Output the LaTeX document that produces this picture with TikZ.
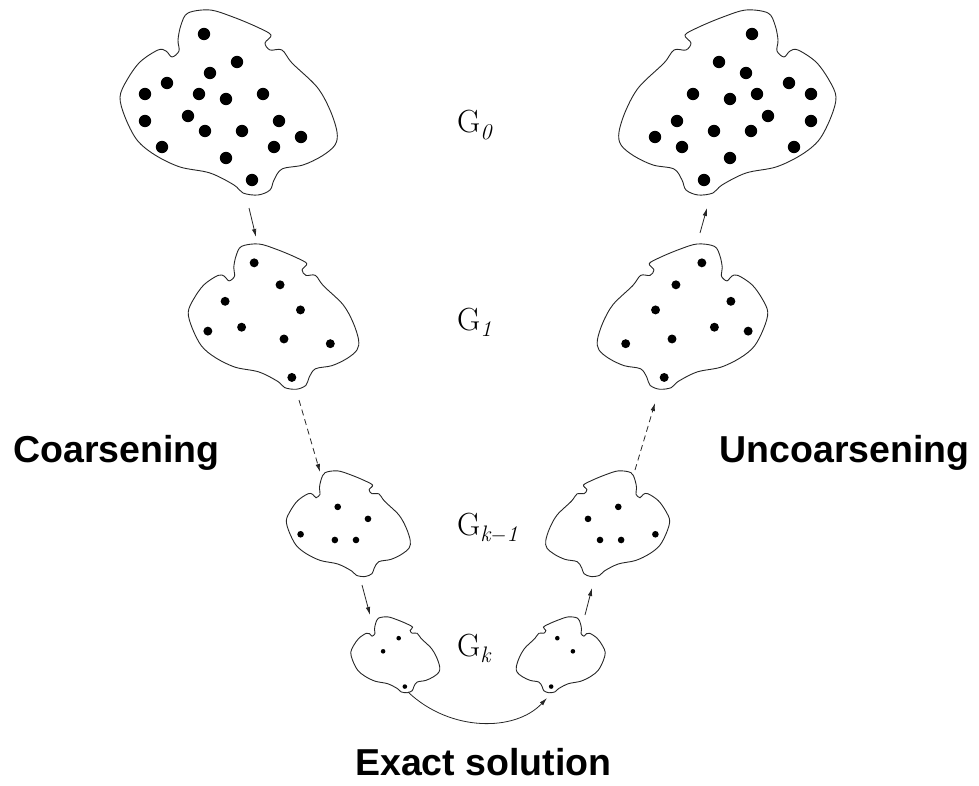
\documentclass[tikz,border=0pt]{standalone}
\usepackage{fontspec}
\newfontfamily\labelfont{Liberation Sans}
\usetikzlibrary{arrows.meta}
\tikzset{
  blobline/.style={draw=black!85, line width=0.9pt},
  blob/.pic={
    \draw[blobline] plot[smooth cycle, tension=0.55] coordinates {
      (-40,-90) (-18,-93) (5,-86) (29,-76) (43,-68) (37,-60) (42,-53) (54,-53)
      (64,-40) (89,-16) (102,7) (109,29) (107,42) (94,53) (75,62) (54,66)
      (46,77) (42,87) (30,92) (15,90) (6,82) (-18,70) (-48,64) (-73,52)
      (-91,37) (-103,14) (-108,-6) (-101,-23) (-88,-41) (-70,-53) (-62,-52)
      (-56,-46) (-49,-52) (-50,-63) (-47,-78)};
  },
  conn/.style={draw=black!85, line width=0.8pt, -{Latex[length=8pt,width=4.5pt]}},
  dconn/.style={conn, dash pattern=on 6pt off 4pt},
  glabel/.style={inner sep=0pt, anchor=base west, font=\fontsize{32}{38}\selectfont},
  blabel/.style={inner sep=0pt, font=\labelfont\bfseries\fontsize{37.5}{44}\selectfont},
}
\begin{document}
\begin{tikzpicture}[x=1pt, y=-1pt]
\useasboundingbox (0,0) rectangle (979,786);
% ---- G0 ----
\begin{scope}[shift={(228,103)}]
  \pic[transform shape] {blob};
  \foreach \p in {(-24,-69),(9,-41),(-18,-30),(-61,-20),(-83,-9),(-29,-9),(-2,-4),(35,-9),
    (-83,18),(-40,13),(51,18),(-23,28),(14,28),(73,34),(-66,44),(46,44),(-2,55),(24,77)}
    \fill \p circle[radius=6.2];
\end{scope}
\begin{scope}[shift={(728,103)}, xscale=-1]
  \pic[transform shape] {blob};
  \foreach \p in {(-24,-69),(9,-41),(-18,-30),(-61,-20),(-83,-9),(-29,-9),(-2,-4),(35,-9),
    (-83,18),(-40,13),(51,18),(-23,28),(14,28),(73,34),(-66,44),(46,44),(-2,55),(24,77)}
    \fill \p circle[radius=6.2];
\end{scope}
% ---- G1 ----
\begin{scope}[shift={(273,317)}, scale=0.785]
  \pic[transform shape] {blob};
  \foreach \p in {(-24,-69),(9,-41),(-61,-20),(35,-9),(-83,18),(-40,13),(14,28),(73,34),(24,77)}
    \fill \p circle[radius=5.7];
\end{scope}
\begin{scope}[shift={(683,317)}, xscale=-0.785, yscale=0.785]
  \pic[transform shape] {blob};
  \foreach \p in {(-24,-69),(9,-41),(-61,-20),(35,-9),(-83,18),(-40,13),(14,28),(73,34),(24,77)}
    \fill \p circle[radius=5.7];
\end{scope}
% ---- Gk-1 ----
\begin{scope}[shift={(348,524)}, scale=0.571]
  \pic[transform shape] {blob};
  \foreach \p in {(-18,-30),(35,-9),(-83,18),(-23,28),(14,28)}
    \fill \p circle[radius=5.8];
\end{scope}
\begin{scope}[shift={(608,524)}, xscale=-0.571, yscale=0.571]
  \pic[transform shape] {blob};
  \foreach \p in {(-18,-30),(35,-9),(-83,18),(-23,28),(14,28)}
    \fill \p circle[radius=5.8];
\end{scope}
% ---- Gk ----
\begin{scope}[shift={(395,655)}, scale=0.41]
  \pic[transform shape] {blob};
  \foreach \p in {(9,-41),(-29,-9),(24,77)}
    \fill \p circle[radius=5.6];
\end{scope}
\begin{scope}[shift={(561,655)}, xscale=-0.41, yscale=0.41]
  \pic[transform shape] {blob};
  \foreach \p in {(9,-41),(-29,-9),(24,77)}
    \fill \p circle[radius=5.6];
\end{scope}
% ---- labels ----
\node[glabel] (g0) at (457,133) {$\mathrm{G}_{\mathit{0}}$};
\node[glabel] (g1) at (457,330) {$\mathrm{G}_{\mathit{1}}$};
\node[glabel] (gk1) at (457,535) {$\mathrm{G}_{\mathit{k-1}}$};
\node[glabel] (gk) at (457,656) {$\mathrm{G}_{\mathit{k}}$};
\node[blabel, anchor=base west] (coarse) at (13,462) {Coarsening};
\node[blabel, anchor=base east] (uncoarse) at (970,462) {Uncoarsening};
\node[blabel, anchor=base west] (exact) at (355,775) {Exact solution};
% ---- connector ends ----
\coordinate (L0out) at (249,208);
\coordinate (L1in) at (256,237);
\coordinate (L1out) at (299,400);
\coordinate (Lk1in) at (320,472);
\coordinate (Lk1out) at (362,585);
\coordinate (Lkin) at (370,615);
\coordinate (Lkout) at (408,692);
\coordinate (Rkin) at (547,698);
\coordinate (Rkout) at (585,615);
\coordinate (Rk1in) at (592,588);
\coordinate (Rk1out) at (635,470);
\coordinate (R1in) at (655,403);
\coordinate (R1out) at (700,233);
\coordinate (R0in) at (707,208);
% ---- connectors ----
\draw[conn] (L0out) -- (L1in);
\draw[dconn] (L1out) -- (Lk1in);
\draw[conn] (Lk1out) -- (Lkin);
\draw[conn] (Lkout) .. controls (450,732) and (515,732) .. (Rkin);
\draw[conn] (Rkout) -- (Rk1in);
\draw[dconn] (Rk1out) -- (R1in);
\draw[conn] (R1out) -- (R0in);
\end{tikzpicture}
\end{document}
